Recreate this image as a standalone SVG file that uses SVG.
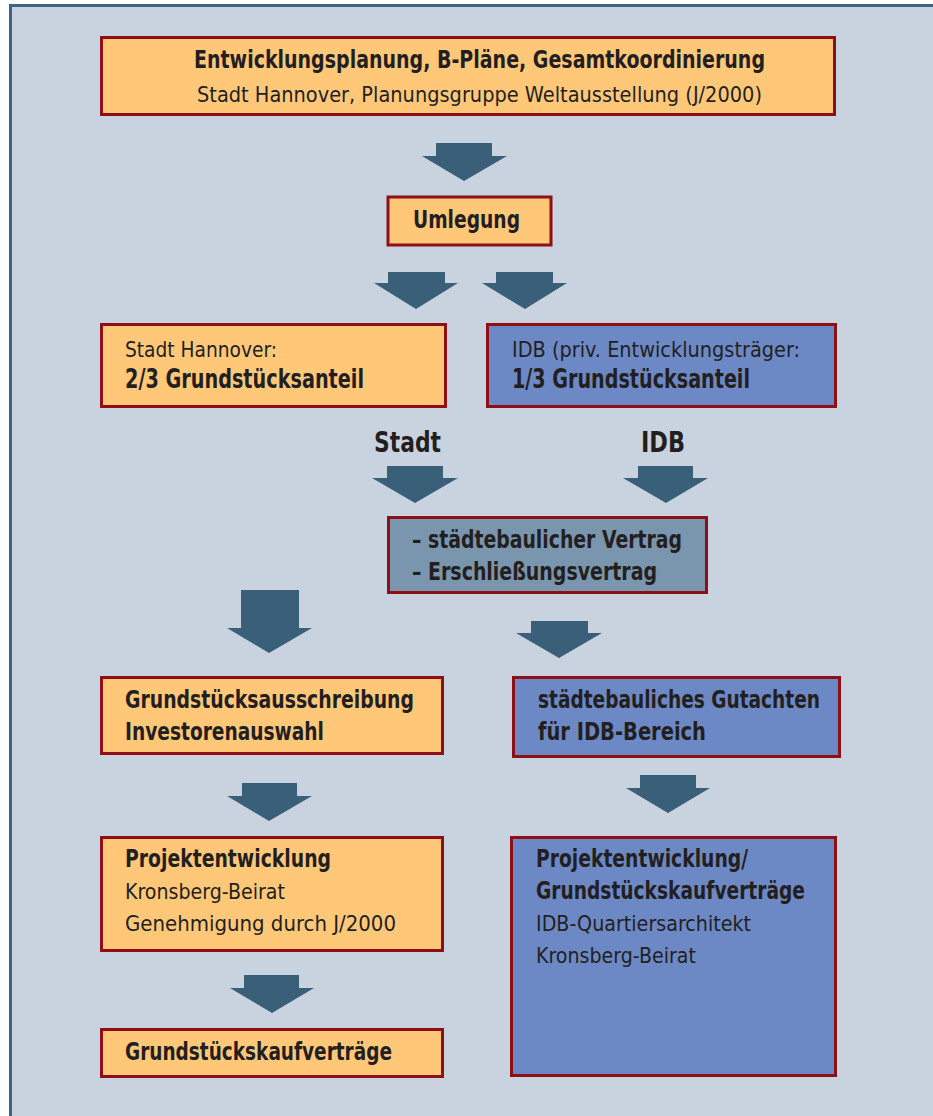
<svg xmlns="http://www.w3.org/2000/svg" width="933" height="1116" viewBox="0 0 933 1116">
<style>
.o{fill:#FEC878;stroke:#8E0F16;stroke-width:3}
.b{fill:#6C89C5;stroke:#8E0F16;stroke-width:3}
.g{fill:#7A96AE;stroke:#8E0F16;stroke-width:3}
.ar{fill:#3A5F78}
text{font-family:"Liberation Sans Narrow","DejaVu Sans Condensed","Liberation Sans",sans-serif;fill:#231F20}
.t{font-size:24px;font-weight:bold}
.r{font-size:21px}
.l{font-size:26px;font-weight:bold}
.h{font-size:29px;font-weight:bold}
</style>
<rect x="0" y="0" width="933" height="1116" fill="#ffffff"/>
<rect x="9" y="4" width="924" height="1112" fill="#C9D3DF"/>
<path d="M10.5 1116 V5.5 H933" fill="none" stroke="#3F6483" stroke-width="3"/>

<g id="connectors">
<polygon class="ar" points="436,143 492,143 492,156 507,156 464,181 422,156 436,156"/>
<polygon class="ar" points="388,272 445,272 445,283 458,283 416,309 374,283 388,283"/>
<polygon class="ar" points="496,272 553,272 553,283 567,283 525,309 482,283 496,283"/>
<polygon class="ar" points="387,466 443,466 443,478 458,478 415,503 372,478 387,478"/>
<polygon class="ar" points="638,466 693,466 693,478 708,478 666,503 623,478 638,478"/>
<polygon class="ar" points="241,590 299,590 299,628 312,628 269,653 227,628 241,628"/>
<polygon class="ar" points="531,621 588,621 588,633 602,633 559,658 516,633 531,633"/>
<polygon class="ar" points="242,783 297,783 297,796 312,796 269,821 227,796 242,796"/>
<polygon class="ar" points="640,775 696,775 696,788 710,788 668,813 626,788 640,788"/>
<polygon class="ar" points="244,975 299,975 299,988 314,988 272,1013 230,988 244,988"/>
</g>

<g id="n1">
<rect class="o" x="101.5" y="37.5" width="733" height="77"/>
<text class="t" x="194" y="68" textLength="571" lengthAdjust="spacingAndGlyphs">Entwicklungsplanung, B-Pläne, Gesamtkoordinierung</text>
<text class="r" x="197" y="102" textLength="565" lengthAdjust="spacingAndGlyphs">Stadt Hannover, Planungsgruppe Weltausstellung (J/2000)</text>
</g>

<g id="n2">
<rect class="o" x="388" y="197" width="163" height="48"/>
<text class="t" x="413" y="228" textLength="107" lengthAdjust="spacingAndGlyphs">Umlegung</text>
</g>

<g id="n3">
<rect class="o" x="101.5" y="324.5" width="344" height="82"/>
<text class="r" x="125" y="357" textLength="152" lengthAdjust="spacingAndGlyphs">Stadt Hannover:</text>
<text class="l" x="125" y="388" textLength="239" lengthAdjust="spacingAndGlyphs">2/3 Grundstücksanteil</text>
</g>

<g id="n4">
<rect class="b" x="487.5" y="324.5" width="348" height="82"/>
<text class="r" x="512" y="357" textLength="288" lengthAdjust="spacingAndGlyphs">IDB (priv. Entwicklungsträger:</text>
<text class="l" x="512" y="388" textLength="238" lengthAdjust="spacingAndGlyphs">1/3 Grundstücksanteil</text>
</g>

<g id="labels">
<text class="h" x="374" y="452" textLength="67" lengthAdjust="spacingAndGlyphs">Stadt</text>
<text class="h" x="641" y="452" textLength="44" lengthAdjust="spacingAndGlyphs">IDB</text>
</g>

<g id="n5">
<rect class="g" x="388.5" y="517.5" width="318" height="75"/>
<text class="t" x="412" y="548" textLength="270" lengthAdjust="spacingAndGlyphs">– städtebaulicher Vertrag</text>
<text class="t" x="412" y="580" textLength="245" lengthAdjust="spacingAndGlyphs">– Erschließungsvertrag</text>
</g>

<g id="n6">
<rect class="o" x="101.5" y="677.5" width="341" height="76"/>
<text class="t" x="125" y="708" textLength="289" lengthAdjust="spacingAndGlyphs">Grundstücksausschreibung</text>
<text class="t" x="125" y="740" textLength="199" lengthAdjust="spacingAndGlyphs">Investorenauswahl</text>
</g>

<g id="n7">
<rect class="b" x="513.5" y="677.5" width="326" height="79"/>
<text class="t" x="538" y="708" textLength="282" lengthAdjust="spacingAndGlyphs">städtebauliches Gutachten</text>
<text class="t" x="538" y="740" textLength="168" lengthAdjust="spacingAndGlyphs">für IDB-Bereich</text>
</g>

<g id="n8">
<rect class="o" x="101.5" y="837.5" width="341" height="113"/>
<text class="t" x="125" y="867" textLength="206" lengthAdjust="spacingAndGlyphs">Projektentwicklung</text>
<text class="r" x="125" y="899" textLength="160" lengthAdjust="spacingAndGlyphs">Kronsberg-Beirat</text>
<text class="r" x="125" y="931" textLength="271" lengthAdjust="spacingAndGlyphs">Genehmigung durch J/2000</text>
</g>

<g id="n9">
<rect class="b" x="511.5" y="837.5" width="324" height="238"/>
<text class="t" x="536" y="867" textLength="212" lengthAdjust="spacingAndGlyphs">Projektentwicklung/</text>
<text class="t" x="536" y="899" textLength="269" lengthAdjust="spacingAndGlyphs">Grundstückskaufverträge</text>
<text class="r" x="536" y="931" textLength="215" lengthAdjust="spacingAndGlyphs">IDB-Quartiersarchitekt</text>
<text class="r" x="536" y="963" textLength="160" lengthAdjust="spacingAndGlyphs">Kronsberg-Beirat</text>
</g>

<g id="n10">
<rect class="o" x="101.5" y="1029.5" width="341" height="47"/>
<text class="t" x="125" y="1060" textLength="267" lengthAdjust="spacingAndGlyphs">Grundstückskaufverträge</text>
</g>
</svg>
